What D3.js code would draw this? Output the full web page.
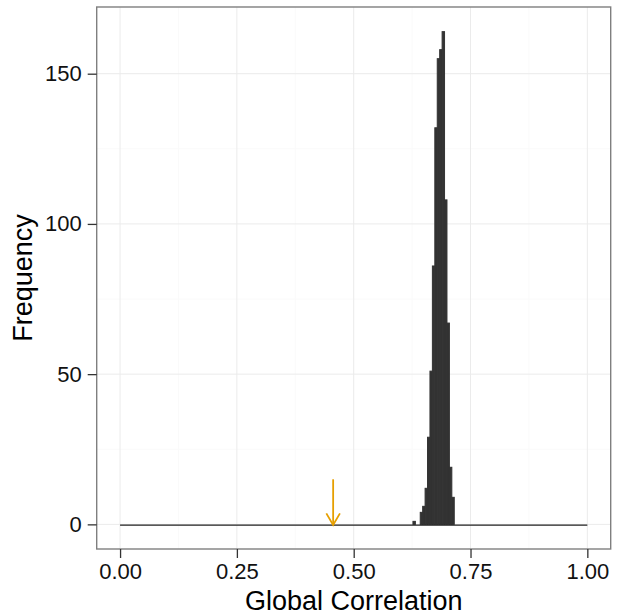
<!DOCTYPE html>
<html>
<head>
<meta charset="utf-8">
<script src="https://cdn.jsdelivr.net/npm/d3@7"></script>
<style>
  html, body { margin: 0; padding: 0; background: #fff; }
  svg text { font-family: "Liberation Sans", Arial, Helvetica, sans-serif; }
</style>
</head>
<body>
<svg id="chart" width="619" height="616"></svg>
<script>
// Histogram of permuted global correlations (bin counts)
const binStart = 0.6268;
const binWidth = 0.0052;
const binCounts = [1, 0, 0, 4, 6, 12, 29, 51, 86, 132, 155, 158, 164, 108, 67, 19, 9];

// Observed global correlation, marked with an arrow
const observedValue = 0.456;
const arrowTop = 15;

// Reference segment along the x axis
const segmentX = [0, 1];

const xTicks = [0, 0.25, 0.5, 0.75, 1];
const xMinorTicks = [0.125, 0.375, 0.625, 0.875];
const yTicks = [0, 50, 100, 150];
const yMinorTicks = [25, 75, 125];

const panel = { left: 96.7, right: 610.7, top: 7, bottom: 549 };

const svg = d3.select("#chart");

const bins = binCounts.map((c, i) => ({
  x0: binStart + i * binWidth,
  x1: binStart + (i + 1) * binWidth,
  count: c
}));

const maxCount = d3.max(binCounts);
const x = d3.scaleLinear().domain([-0.05, 1.05]).range([panel.left, panel.right]);
const y = d3.scaleLinear().domain([-maxCount * 0.05, maxCount * 1.05]).range([panel.bottom, panel.top]);

// panel background
svg.append("rect")
  .attr("x", panel.left).attr("y", panel.top)
  .attr("width", panel.right - panel.left).attr("height", panel.bottom - panel.top)
  .attr("fill", "#fff");

// minor grid
const grid = svg.append("g");
grid.selectAll(".vminor").data(xMinorTicks).join("line")
  .attr("x1", d => x(d)).attr("x2", d => x(d))
  .attr("y1", panel.top).attr("y2", panel.bottom)
  .attr("stroke", "#fafafa").attr("stroke-width", 1);
grid.selectAll(".hminor").data(yMinorTicks).join("line")
  .attr("y1", d => y(d)).attr("y2", d => y(d))
  .attr("x1", panel.left).attr("x2", panel.right)
  .attr("stroke", "#fafafa").attr("stroke-width", 1);
// major grid
grid.selectAll(".vmajor").data(xTicks).join("line")
  .attr("x1", d => x(d)).attr("x2", d => x(d))
  .attr("y1", panel.top).attr("y2", panel.bottom)
  .attr("stroke", "#ebebeb").attr("stroke-width", 1);
grid.selectAll(".hmajor").data(yTicks).join("line")
  .attr("y1", d => y(d)).attr("y2", d => y(d))
  .attr("x1", panel.left).attr("x2", panel.right)
  .attr("stroke", "#ebebeb").attr("stroke-width", 1);

// histogram bars (stroke in the fill colour closes the seams between bins)
svg.append("g").selectAll("rect").data(bins.filter(b => b.count > 0)).join("rect")
  .attr("x", d => x(d.x0))
  .attr("width", d => x(d.x1) - x(d.x0))
  .attr("y", d => y(d.count))
  .attr("height", d => y(0) - y(d.count))
  .attr("fill", "#333333")
  .attr("stroke", "#333333")
  .attr("stroke-width", 1);

// baseline segment
svg.append("line")
  .attr("x1", x(segmentX[0])).attr("x2", x(segmentX[1]))
  .attr("y1", y(0) + 0.8).attr("y2", y(0) + 0.8)
  .attr("stroke", "#222").attr("stroke-width", 1.2);

// arrow for observed value
const ax = x(observedValue);
const ay0 = y(arrowTop), ay1 = y(0) + 0.5;
const arrowCol = "#E69F00";
svg.append("line")
  .attr("x1", ax).attr("x2", ax).attr("y1", ay0).attr("y2", ay1)
  .attr("stroke", arrowCol).attr("stroke-width", 1.8);
svg.append("path")
  .attr("d", `M${ax - 6.8},${ay1 - 11.5}L${ax},${ay1}L${ax + 6.8},${ay1 - 11.5}`)
  .attr("fill", "none").attr("stroke", arrowCol).attr("stroke-width", 1.8)
  .attr("stroke-linejoin", "miter");

// panel border
svg.append("rect")
  .attr("x", panel.left).attr("y", panel.top)
  .attr("width", panel.right - panel.left).attr("height", panel.bottom - panel.top)
  .attr("fill", "none").attr("stroke", "#7f7f7f").attr("stroke-width", 1.4);

// axes
const xAxis = d3.axisBottom(x).tickValues(xTicks).tickFormat(d3.format(".2f"))
  .tickSizeInner(9).tickSizeOuter(0).tickPadding(5);
const gx = svg.append("g").attr("transform", `translate(0,${panel.bottom})`).call(xAxis);
gx.select(".domain").remove();
gx.selectAll(".tick line").attr("stroke", "#333").attr("stroke-width", 1.3);
gx.selectAll(".tick text").attr("font-size", 22).attr("fill", "#111")
  .attr("font-family", "'Liberation Sans', Arial, sans-serif");

const yAxis = d3.axisLeft(y).tickValues(yTicks).tickFormat(d3.format("d"))
  .tickSizeInner(9).tickSizeOuter(0).tickPadding(6);
const gy = svg.append("g").attr("transform", `translate(${panel.left},0)`).call(yAxis);
gy.select(".domain").remove();
gy.selectAll(".tick line").attr("stroke", "#333").attr("stroke-width", 1.3);
gy.selectAll(".tick text").attr("font-size", 22).attr("fill", "#111")
  .attr("font-family", "'Liberation Sans', Arial, sans-serif");

// axis titles
svg.append("text")
  .attr("x", (panel.left + panel.right) / 2).attr("y", 610)
  .attr("text-anchor", "middle").attr("font-size", 27).attr("fill", "#000")
  .text("Global Correlation");
svg.append("text")
  .attr("transform", `translate(32,${(panel.top + panel.bottom) / 2}) rotate(-90)`)
  .attr("text-anchor", "middle").attr("font-size", 27).attr("fill", "#000")
  .text("Frequency");
</script>
</body>
</html>
